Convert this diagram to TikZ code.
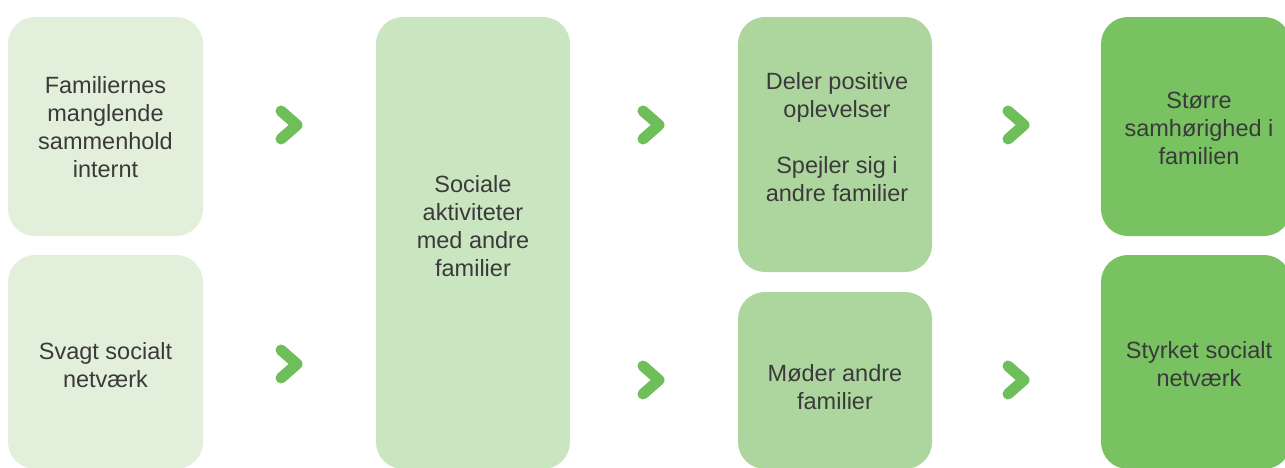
\documentclass[tikz,border=0pt]{standalone}
\usepackage{fontspec}
\setmainfont{Liberation Sans}
\definecolor{c1}{HTML}{E2EFDA}
\definecolor{c2}{HTML}{C9E6C1}
\definecolor{c3}{HTML}{ADD69E}
\definecolor{c4}{HTML}{78C262}
\definecolor{chev}{HTML}{6EBE5A}
\definecolor{txt}{HTML}{3A3A3A}
\begin{document}
\begin{tikzpicture}[x=1pt,y=-1pt,
  box/.style={draw=none,rounded corners=27pt,inner sep=0pt},
  lbl/.style={text=txt,align=center,font=\fontsize{23.5}{28}\selectfont,inner sep=0pt},
  chevron/.style={draw=chev,line width=11pt,line cap=round,line join=round}]
\useasboundingbox (0,0) rectangle (1285,467);
\clip (0,0) rectangle (1285,467);
\fill[white] (0,0) rectangle (1285,467);
% boxes
\node[box,fill=c1,minimum width=195pt,minimum height=219pt] (b1) at (105.5,126.5) {};
\node[box,fill=c1,minimum width=195pt,minimum height=214pt] (b2) at (105.5,362) {};
\node[box,fill=c2,minimum width=194pt,minimum height=452pt] (b3) at (473,243) {};
\node[box,fill=c3,minimum width=194pt,minimum height=255pt] (b4) at (835,144.5) {};
\node[box,fill=c3,minimum width=194pt,minimum height=177pt] (b5) at (835,380.5) {};
\node[box,fill=c4,minimum width=190pt,minimum height=219pt] (b6) at (1196,126.5) {};
\node[box,fill=c4,minimum width=190pt,minimum height=214pt] (b7) at (1196,362) {};
% labels
\node[lbl] (t1) at (105.5,127) {Familiernes\\manglende\\sammenhold\\internt};
\node[lbl] (t2) at (105.5,365) {Svagt socialt\\netværk};
\node[lbl] (t3) at (473,226) {Sociale\\aktiviteter\\med andre\\familier};
\node[lbl] (t4) at (837,137) {Deler positive\\oplevelser\\[28pt]Spejler sig i\\andre familier};
\node[lbl] (t5) at (835,387) {Møder andre\\familier};
\node[lbl] (t6) at (1199,128) {Større\\samhørighed i\\familien};
\node[lbl] (t7) at (1199,364) {Styrket socialt\\netværk};
% chevrons
\foreach \n/\cx/\cy in {a/289/125, b/289/364, c/651/125, d/651/380, e/1016/125, f/1016/380}{
  \coordinate (\n) at (\cx,\cy);
  \draw[chevron] ([shift={(-8,-14)}]\n) -- ([shift={(8,0)}]\n) -- ([shift={(-8,14)}]\n);
}
\end{tikzpicture}
\end{document}
